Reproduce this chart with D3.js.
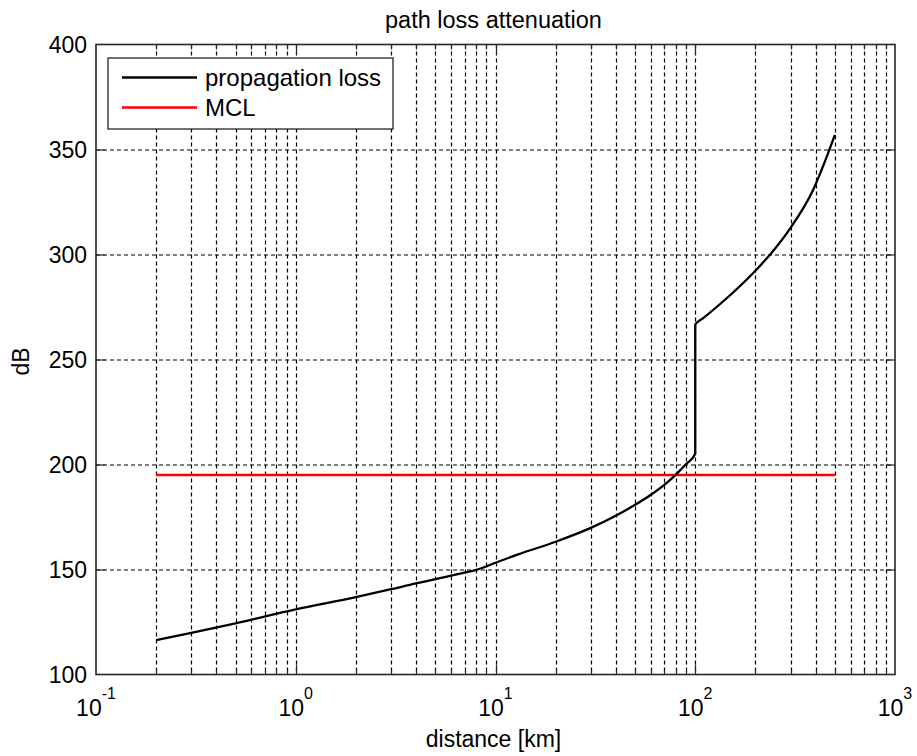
<!DOCTYPE html>
<html>
<head>
<meta charset="utf-8">
<script src="https://cdn.jsdelivr.net/npm/d3@7"></script>
<style>
  body { margin: 0; background: #fff; }
  text { font-family: Arial, "Liberation Sans", sans-serif; fill: #000; }
</style>
</head>
<body>
<div id="chart"></div>
<script>
// propagation loss curve
const distKm = [0.2, 0.3, 0.5, 1, 2, 3, 4, 5, 6, 7, 8, 9, 10, 13, 20, 30, 40, 50, 60, 70, 80, 90, 100,
                100, 110, 135, 200, 240, 300, 390, 455, 500];
const lossDb = [116.4, 119.8, 124.4, 131, 136.8, 140.6, 143.4, 145.4, 147.1, 148.5, 149.8, 151.5, 153.2, 157.2, 163.2, 169.8, 175.6, 180.8, 185.6, 190.3, 195.2, 200.2, 205.1,
                266.7, 269.8, 276.9, 292.3, 300.6, 312.7, 331, 346.5, 357];

// MCL level
const mclDist = [0.2, 500];
const mclDb = [195, 195];

const xDecades = [0.1, 1, 10, 100, 1000];
const xExponents = ["-1", "0", "1", "2", "3"];
const yTicks = [100, 150, 200, 250, 300, 350, 400];

const seriesNames = ["propagation loss", "MCL"];
const seriesColors = ["#000000", "#ff0000"];

const W = 917, H = 756;
const margin = {top: 44.5, right: 22, bottom: 81.5, left: 96};
const width = W - margin.left - margin.right;
const height = H - margin.top - margin.bottom;

const svg = d3.select('#chart').append('svg')
    .attr('width', W)
    .attr('height', H);

const chart = svg.append('g')
    .attr('transform', `translate(${margin.left},${margin.top})`);

const x = d3.scaleLog().domain([0.1, 1000]).range([0, width]);
const y = d3.scaleLinear().domain([100, 400]).range([height, 0]);

const allX = x.ticks();
const inner = allX.filter(v => v > 0.1 && v < 1000);
const isMajor = v => xDecades.some(d => Math.abs(d - v) / d < 1e-9);

// dashed grid
const grid = chart.append('g')
    .attr('stroke', '#000')
    .attr('stroke-width', 1.2)
    .attr('stroke-dasharray', '4,3');

grid.selectAll('.vgrid')
  .data(inner)
  .join('line')
    .attr('class', 'vgrid')
    .attr('x1', d => Math.round(x(d)) + 0.5)
    .attr('x2', d => Math.round(x(d)) + 0.5)
    .attr('y1', 0)
    .attr('y2', height);

grid.selectAll('.hgrid')
  .data(yTicks.slice(1, -1))
  .join('line')
    .attr('class', 'hgrid')
    .attr('x1', 0)
    .attr('x2', width)
    .attr('y1', d => Math.round(y(d)) + 0.5)
    .attr('y2', d => Math.round(y(d)) + 0.5);

// inward ticks
const ticks = chart.append('g').attr('stroke', '#262626').attr('stroke-width', 1.2);
inner.forEach(v => {
  const len = isMajor(v) ? 10 : 5;
  const px = Math.round(x(v)) + 0.5;
  ticks.append('line').attr('x1', px).attr('x2', px).attr('y1', height).attr('y2', height - len);
  ticks.append('line').attr('x1', px).attr('x2', px).attr('y1', 0).attr('y2', len);
});
yTicks.slice(1, -1).forEach(v => {
  const py = Math.round(y(v)) + 0.5;
  ticks.append('line').attr('x1', 0).attr('x2', 9).attr('y1', py).attr('y2', py);
  ticks.append('line').attr('x1', width).attr('x2', width - 9).attr('y1', py).attr('y2', py);
});

// series
const line = d3.line().x(d => x(d[0])).y(d => y(d[1]));

chart.append('path')
    .datum(mclDist.map((d, i) => [d, mclDb[i]]))
    .attr('fill', 'none')
    .attr('stroke', seriesColors[1])
    .attr('stroke-width', 2.3)
    .attr('d', line);

chart.append('path')
    .datum(distKm.map((d, i) => [d, lossDb[i]]))
    .attr('fill', 'none')
    .attr('stroke', seriesColors[0])
    .attr('stroke-width', 2.3)
    .attr('stroke-linejoin', 'round')
    .attr('d', d3.line().x(d => x(d[0])).y(d => y(d[1])).curve(d3.curveMonotoneX));

// frame
chart.append('rect')
    .attr('width', width)
    .attr('height', height)
    .attr('fill', 'none')
    .attr('stroke', '#262626')
    .attr('stroke-width', 1.6);

// y tick labels
chart.selectAll('.ylab')
  .data(yTicks)
  .join('text')
    .attr('class', 'ylab')
    .attr('x', -9)
    .attr('y', d => y(d))
    .attr('dy', '0.36em')
    .attr('text-anchor', 'end')
    .attr('font-size', 23)
    .text(d => d);

// x tick labels: 10 with superscript exponent
xDecades.forEach((v, i) => {
  const t = chart.append('text')
      .attr('x', x(v))
      .attr('y', height + 41)
      .attr('text-anchor', 'middle')
      .attr('font-size', 23);
  t.append('tspan').text('10');
  t.append('tspan').attr('dy', -17).attr('font-size', 16).text(xExponents[i]);
});

// axis titles
svg.append('text')
    .attr('x', margin.left + width / 2 - 2)
    .attr('y', 28)
    .attr('text-anchor', 'middle')
    .attr('font-size', 23.5)
    .text('path loss attenuation');

svg.append('text')
    .attr('x', margin.left + width / 2 - 2)
    .attr('y', 747)
    .attr('text-anchor', 'middle')
    .attr('font-size', 23)
    .text('distance [km]');

svg.append('text')
    .attr('transform', `translate(29,${margin.top + height / 2 + 2}) rotate(-90)`)
    .attr('text-anchor', 'middle')
    .attr('font-size', 23)
    .text('dB');

// legend
const legend = svg.append('g').attr('transform', 'translate(108,58)');
legend.append('rect')
    .attr('width', 285)
    .attr('height', 71)
    .attr('fill', '#fff')
    .attr('stroke', '#262626')
    .attr('stroke-width', 1.3);
seriesNames.forEach((name, i) => {
  const ly = 19.5 + i * 30;
  legend.append('line')
      .attr('x1', 14).attr('x2', 89)
      .attr('y1', ly).attr('y2', ly)
      .attr('stroke', seriesColors[i])
      .attr('stroke-width', 2.3);
  legend.append('text')
      .attr('x', 97)
      .attr('y', ly + 8)
      .attr('font-size', 24)
      .text(name);
});
</script>
</body>
</html>
